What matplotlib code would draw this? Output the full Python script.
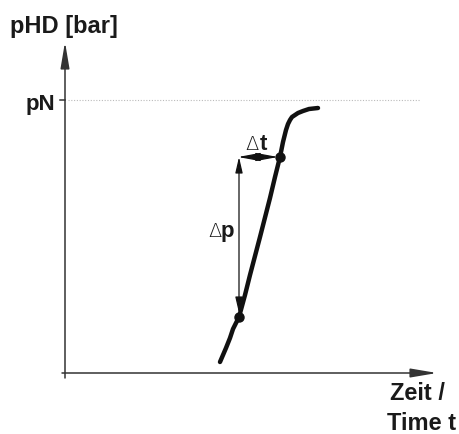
import matplotlib
matplotlib.use("Agg")
import matplotlib.pyplot as plt

# Data (t = time units from origin, p = pressure units from origin)
curve_t = [155, 158, 161, 165, 168, 171, 174, 180, 185, 195, 205, 210, 215, 218, 221, 223, 225, 227, 230, 233, 238, 244, 253]
curve_p = [11, 18, 25, 35, 44, 50, 56, 78, 98, 136, 175, 196, 216, 231, 243, 249, 253, 256, 258, 260, 262, 264, 265]
point_t = [174, 215]
point_p = [56, 216]
pN_level = 273
dp_t = 174
dp_range = [216, 60]
dt_range = [173, 213]
dt_level = 216

axis_color = "#333333"
FONT = "Liberation Sans"

fig = plt.figure(figsize=(4.59, 4.34), dpi=100)
ax = fig.add_axes([0, 0, 1, 1])
ax.set_xlim(-65, 394)
ax.set_ylim(-61, 373)
ax.axis("off")

# axes with arrows
ax.annotate("", xy=(372, 0), xytext=(-3, 0),
            arrowprops=dict(arrowstyle="-|>,head_length=1.6,head_width=0.27",
                            mutation_scale=10, lw=1.1, color=axis_color,
                            shrinkA=0, shrinkB=0))
ax.annotate("", xy=(0, 331), xytext=(0, -5),
            arrowprops=dict(arrowstyle="-|>,head_length=1.6,head_width=0.27",
                            mutation_scale=10, lw=1.1, color=axis_color,
                            shrinkA=0, shrinkB=0))

# pN tick and dotted reference line
ax.plot([-5, 0], [pN_level, pN_level], color=axis_color, lw=1.1)
ax.plot([3, 355], [pN_level, pN_level], color="#bbbbbb", lw=0.8,
        linestyle=(0, (1, 1.5)))

# curve
ax.plot(curve_t, curve_p, color="#111111", lw=3.2, solid_capstyle="round",
        solid_joinstyle="round")
ax.plot(point_t, point_p, "o", color="#111111", markersize=6.5)

# delta p arrow
ax.annotate("", xy=(dp_t, dp_range[1]), xytext=(dp_t, dp_range[0]),
            arrowprops=dict(arrowstyle="<|-|>,head_length=0.95,head_width=0.22",
                            mutation_scale=10, lw=0.9, color="#111111",
                            shrinkA=0, shrinkB=0))
# delta t arrow
ax.annotate("", xy=(dt_range[1], dt_level), xytext=(dt_range[0], dt_level),
            arrowprops=dict(arrowstyle="<|-|>,head_length=1.35,head_width=0.25",
                            mutation_scale=10, lw=0.9, color="#111111",
                            shrinkA=0, shrinkB=0))

# texts
ax.text(-55, 347, "pHD [bar]", fontsize=17, fontweight="bold", family=FONT,
        ha="left", va="center", color="#1a1a1a")
ax.text(-10, 263, "pN", fontsize=16, fontweight="bold", family=FONT,
        ha="right", va="baseline", color="#1a1a1a")
ax.text(325, -27, "Zeit /", fontsize=17, fontweight="bold", family=FONT,
        ha="left", va="baseline", color="#1a1a1a")
ax.text(322, -57, "Time t", fontsize=17, fontweight="bold", family=FONT,
        ha="left", va="baseline", color="#1a1a1a")

ax.text(180, 223, "Δ", fontsize=14, family="DejaVu Sans", fontweight="light",
        ha="left", va="baseline", color="#1a1a1a")
ax.text(195, 223, "t", fontsize=16, fontweight="bold", family=FONT,
        ha="left", va="baseline", color="#1a1a1a")
ax.text(143, 136, "Δ", fontsize=14, family="DejaVu Sans", fontweight="light",
        ha="left", va="baseline", color="#1a1a1a")
ax.text(156, 136, "p", fontsize=16, fontweight="bold", family=FONT,
        ha="left", va="baseline", color="#1a1a1a")

fig.savefig("out.png", dpi=100)
